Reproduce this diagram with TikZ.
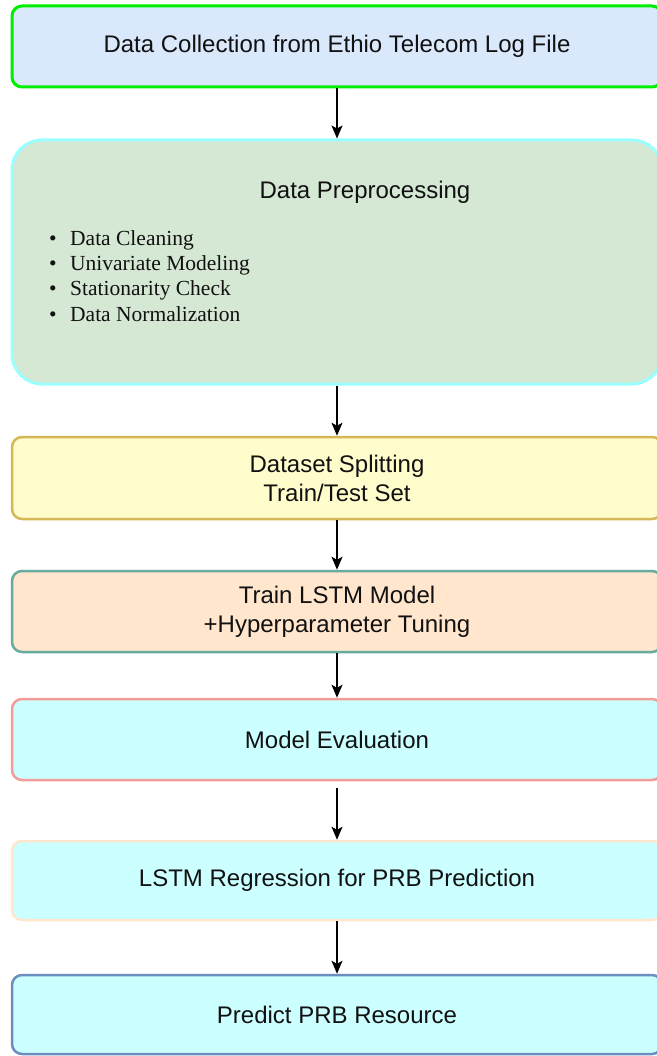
\documentclass[tikz,border=0pt]{standalone}
\usepackage{fontspec}
\setmainfont{Liberation Sans}
\newfontfamily\bulletserif{Liberation Serif}
\usetikzlibrary{arrows.meta}
\definecolor{txt}{HTML}{111111}
\definecolor{f1}{HTML}{DAE8FC}\definecolor{d1}{HTML}{00EE00}
\definecolor{f2}{HTML}{D5E8D4}\definecolor{d2}{HTML}{99FFFF}
\definecolor{f3}{HTML}{FFFDCC}\definecolor{d3}{HTML}{D6B656}
\definecolor{f4}{HTML}{FFE6CC}\definecolor{d4}{HTML}{67AB9F}
\definecolor{f5}{HTML}{CCFFFF}\definecolor{d5}{HTML}{F19C99}
\definecolor{d6}{HTML}{FFE6CC}
\definecolor{d7}{HTML}{6C8EBF}
\newcommand{\bulletmark}{\makebox[22pt][l]{\hspace{1pt}\textbullet}}
\tikzset{
  stagebox/.style={draw, rounded corners=10pt, line width=2.5pt, minimum width=650pt,
    inner sep=0pt, align=center, text=txt, font=\fontsize{24}{29}\selectfont},
  flow/.style={line width=1.5pt, -{Stealth[length=13pt,width=11pt,inset=3pt]}},
}
\begin{document}
\begin{tikzpicture}[x=1pt,y=-1pt]
\useasboundingbox (0,0) rectangle (656,1056);
\node[stagebox, draw=d1, fill=f1, line width=3pt, minimum height=81pt] (b1) at (337,46.5)
  {Data Collection from Ethio Telecom Log File};
\node[stagebox, draw=d2, fill=f2, line width=3pt, rounded corners=30pt, minimum height=244pt] (b2) at (337,262) {};
\node[text=txt, font=\fontsize{24}{29}\selectfont, anchor=center] (b2t) at (365,192) {Data Preprocessing};
\node[text=txt, anchor=north west, inner sep=0pt, align=left,
  font=\bulletserif\fontsize{21.5}{25.3}\selectfont] (b2l) at (48,230)
  {\bulletmark Data Cleaning\\
   \bulletmark Univariate Modeling\\
   \bulletmark Stationarity Check\\
   \bulletmark Data Normalization};
\node[stagebox, draw=d3, fill=f3, minimum height=82pt] (b3) at (337,478)
  {Dataset Splitting\\Train/Test Set};
\node[stagebox, draw=d4, fill=f4, minimum height=81pt] (b4) at (337,611.5)
  {Train LSTM Model\\+Hyperparameter Tuning};
\node[stagebox, draw=d5, fill=f5, minimum height=81pt] (b5) at (337,739.5)
  {Model Evaluation};
\node[stagebox, draw=d6, fill=f5, minimum height=79pt] (b6) at (337,880.5)
  {LSTM Regression for PRB Prediction};
\node[stagebox, draw=d7, fill=f5, minimum height=79pt] (b7) at (337,1014.5)
  {Predict PRB Resource};
\draw[flow] (b1.south) -- (b2.north);
\draw[flow] (b2.south) -- (b3.north);
\draw[flow] (b3.south) -- (b4.north);
\draw[flow] (b4.south) -- (b5.north);
\draw[flow] ([yshift=-7pt]b5.south) -- (b6.north);
\draw[flow] (b6.south) -- (b7.north);
\end{tikzpicture}
\end{document}
